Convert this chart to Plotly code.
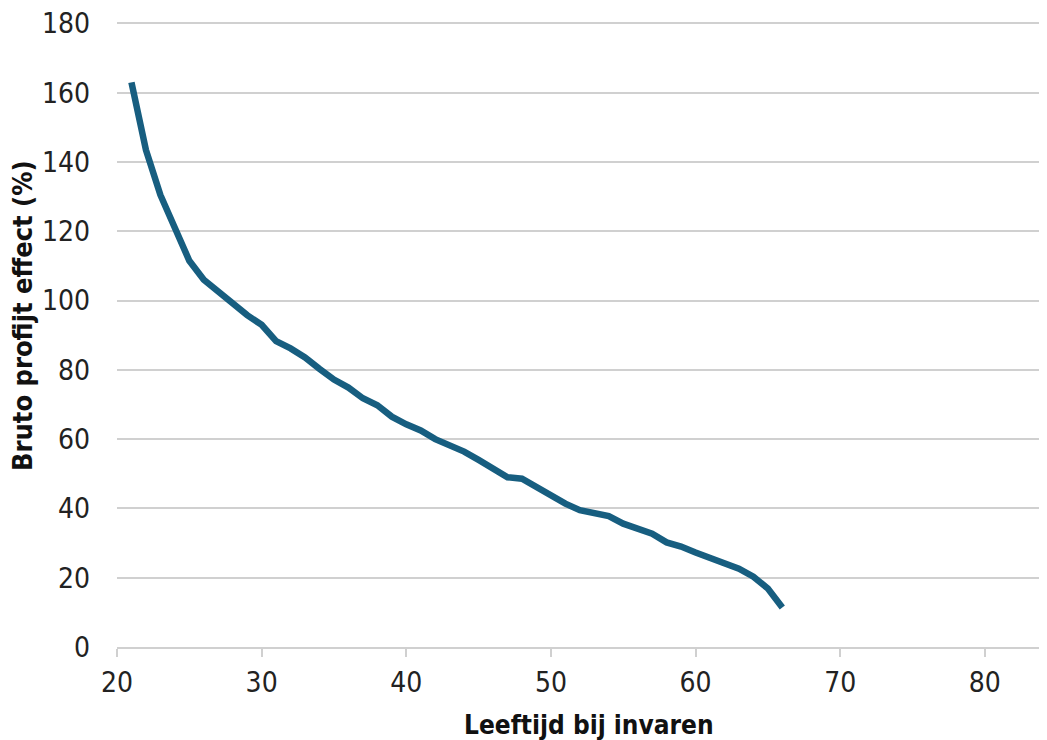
import plotly.graph_objects as go

ages = list(range(21, 67))
profit = [163, 143.5, 130.5, 121.5, 111.5, 106, 102.5, 99.6, 95.8, 93, 88.3, 86.2, 83.6, 80.3,
          77.2, 74.9, 71.8, 69.8, 66.5, 64.3, 62.5, 60, 58.3, 56.4, 54, 51.6, 49, 48.6,
          46.2, 43.3, 41.4, 39.5, 38.6, 37.8, 35.6, 34.3, 32.7, 30.2, 29.0, 27.3, 25.7,
          24.0, 22.6, 20.3, 16.9, 11.4]

x_ticks = [20, 30, 40, 50, 60, 70, 80]
y_ticks = [0, 20, 40, 60, 80, 100, 120, 140, 160, 180]

x_title = "Leeftijd bij invaren"
y_title = "Bruto profijt effect (%)"

FONT = "Liberation Sans Narrow, DejaVu Sans Condensed, Liberation Sans, sans-serif"

# page body has an 8px offset; plot area target in viewport: left 117.4, 180 at y=23, 0 at 646.6, right 1047
Y_MAX = 181
L, B, R = 109.4, 101.4, 8
PH = 623.6 * Y_MAX / 180
T = 740 - B - PH
PW = 1047 - L - R

fig = go.Figure()
fig.add_trace(go.Scatter(
    x=ages, y=profit, mode="lines",
    line=dict(color="#175E80", width=6.5, shape="linear"),
    hoverinfo="x+y", showlegend=False,
))

fig.update_layout(
    width=1047, height=740,
    margin=dict(l=L, r=R, t=T, b=B, autoexpand=False),
    paper_bgcolor="white", plot_bgcolor="white",
    font=dict(family=FONT, color="#222222", size=28),
    xaxis=dict(
        range=[20, 84.3], tickvals=x_ticks, ticktext=[str(v) for v in x_ticks],
        showgrid=False, zeroline=False, automargin=False,
        showline=True, linecolor="#d0d0d0", linewidth=1.5,
        ticks="outside", ticklen=8, tickcolor="#d0d0d0", tickwidth=1.5,
        ticklabelstandoff=2, ticklabeloverflow="allow",
        tickfont=dict(family=FONT, size=28, color="#222222"),
    ),
    yaxis=dict(
        range=[0, Y_MAX], tickvals=y_ticks, ticktext=[str(v) for v in y_ticks],
        showgrid=True, gridcolor="#d0d0d0", gridwidth=1.5,
        zeroline=False, showline=False, ticks="", automargin=False,
        ticklabelstandoff=26, ticklabeloverflow="allow",
        tickfont=dict(family=FONT, size=28, color="#222222"),
    ),
    annotations=[
        dict(text="<b>%s</b>" % x_title, xref="paper", yref="paper",
             x=(589 - 8 - L) / PW, y=-(725 - 8 - (740 - B)) / PH,
             xanchor="center", yanchor="middle", showarrow=False,
             font=dict(family=FONT, size=26, color="#111111")),
        dict(text="<b>%s</b>" % y_title, xref="paper", yref="paper",
             x=-(L - (23 - 8)) / PW, y=((740 - B) - (315 - 8)) / PH,
             xanchor="center", yanchor="middle", showarrow=False, textangle=-90,
             font=dict(family=FONT, size=27, color="#111111")),
    ],
)

fig.write_html("out.html")
